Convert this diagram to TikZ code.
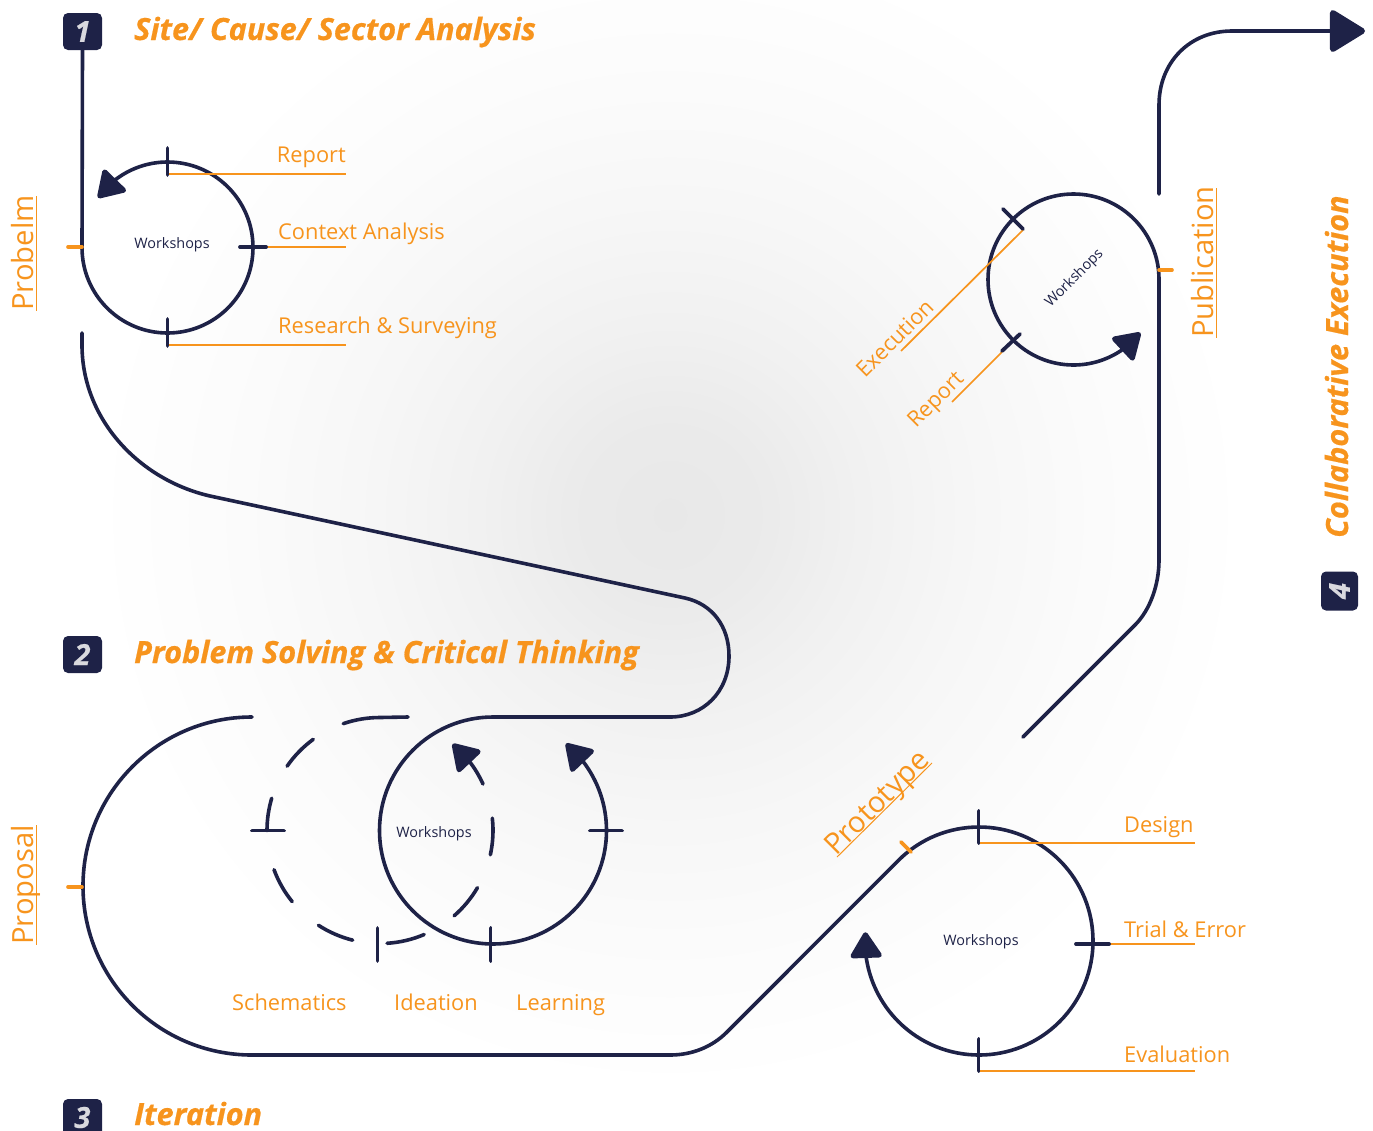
\documentclass[tikz,border=0pt]{standalone}
\usepackage{fontspec}
\setmainfont{Open Sans}[BoldItalicFeatures={FakeBold=0.6}]
\usetikzlibrary{arrows.meta,bending,calc}
\definecolor{navy}{HTML}{1E2247}
\definecolor{orange1}{HTML}{F7941D}
\definecolor{digit}{HTML}{D9D9DE}
\pgfdeclareradialshading{glow}{\pgfpointorigin}{
  color(0bp)=(black!9); color(4bp)=(black!8); color(8bp)=(black!5.5);
  color(13bp)=(black!3.2); color(18bp)=(black!1.5); color(24bp)=(white); color(50bp)=(white)}
\tikzset{
  flow/.style={draw=navy,line width=3.6pt,line cap=round,line join=round},
  flowtip/.style={flow,-{Triangle[round,line width=5pt,length=28pt,width=34pt]}},
  tick/.style={draw=navy,line width=3.8pt,line cap=round},
  otick/.style={draw=orange1,line width=3.6pt,line cap=round},
  leader/.style={draw=orange1,line width=1.7pt},
  under/.style={draw=orange1,line width=1pt},
  lab/.style={text=orange1,font=\fontsize{21.8}{26}\selectfont,inner sep=0pt},
  biglab/.style={text=orange1,font=\fontsize{29.2}{34}\selectfont,inner sep=0pt},
  ws/.style={text=navy,font=\fontsize{14.4}{18}\selectfont,inner sep=0pt},
  title/.style={text=orange1,font=\fontsize{30.6}{34}\selectfont\bfseries\itshape,inner sep=0pt},
  badge/.style={fill=navy,rounded corners=5pt,minimum width=39pt,minimum height=37pt,inner sep=0pt,
    text=digit,font=\fontsize{29}{32}\selectfont\bfseries\itshape},
}
\begin{document}
\begin{tikzpicture}[x=1pt,y=-1pt]
\useasboundingbox (0,0) rectangle (1373,1130);
\begin{scope}
\clip (0,0) rectangle (1373,1130);
\shade[shading=glow] (670,515) circle (600);
\end{scope}

% badges and titles
\node[badge] (b1) at (82.5,31.5) {1};
\node[badge] (b2) at (82.5,654.5) {2};
\node[badge] (b3) at (82.5,1117.5) {3};
\node[badge,rotate=90] (b4) at (1339.5,591) {4};
\node[title,anchor=base west] (t1) at (134,40) {Site/ Cause/ Sector Analysis};
\node[title,anchor=base west] (t2) at (134,663) {Problem Solving \& Critical Thinking};
\node[title,anchor=base west] (t3) at (134,1125) {Iteration};
\node[title,anchor=base west,rotate=90] (t4) at (1348,538) {Collaborative Execution};

% circle centres
\coordinate (c1) at (167.5,247.5);
\coordinate (c2) at (493,830.5);
\coordinate (c2d) at (380,830.5);
\coordinate (c3) at (979,941);
\coordinate (c4) at (1073.5,279.5);

% main connectors
\coordinate (p1) at (82,247.5);
\draw[flowtip] (b1.south) -- (p1) arc[start angle=180,end angle=-144.4,radius=85.5];

\coordinate (p2) at (82,333);
\coordinate (p2a) at (210,496);
\coordinate (p2b) at (685,598);
\coordinate (p2c) at (729,656);
\coordinate (p2d) at (670,717);
\coordinate (p2e) at (493,717);
\draw[flowtip] (p2) -- (82,345) .. controls (82,420) and (140,480) .. (p2a) -- (p2b)
  .. controls (712,604) and (729,626) .. (p2c)
  .. controls (729,692) and (703,717) .. (p2d) -- (p2e)
  arc[start angle=-90,end angle=-410,radius=113.5];

\foreach \a/\b in {-126.2/-145.3,-163.4/-180,159.7/141,123/104,86.4/67,49/30.4,12.4/-6.3}{
  \draw[flow] ($(c2d)+(\a:113)$) arc[start angle=\a,end angle=\b,radius=113];
}
\coordinate (p2f) at (408,717);
\draw[flow] ($(c2d)+(-109:113)$) arc[start angle=-109,end angle=-90,radius=113] -- (p2f);
\draw[flowtip] ($(c2d)+(-24.3:113)$) arc[start angle=-24.3,end angle=-50,radius=113];

\coordinate (p3) at (252,717);
\coordinate (p3a) at (670,1055);
\coordinate (p3b) at (727,1032);
\coordinate (p3c) at (898.4,860.4);
\draw[flowtip] (p3) arc[start angle=-90,end angle=-270,radius=169] -- (p3a)
  .. controls (692,1055) and (712,1047) .. (p3b) -- (p3c)
  arc[start angle=-135,end angle=184.4,radius=114];

\coordinate (p4) at (1023,737);
\coordinate (p4a) at (1135,625);
\coordinate (p4b) at (1159,560);
\coordinate (p4c) at (1159,279.5);
\draw[flowtip] (p4) -- (p4a) .. controls (1150,610) and (1159,585) .. (p4b) -- (p4c)
  arc[start angle=0,end angle=-321.5,radius=85.5];

\coordinate (p5) at (1159,194);
\coordinate (p5a) at (1159,105);
\coordinate (p5b) at (1232,31);
\coordinate (p5c) at (1365,31);
\draw[flow,-{Triangle[round,line width=6pt,length=38pt,width=45pt]}] (p5) -- (p5a)
  .. controls (1159,62) and (1190,31) .. (p5b) -- (p5c);

% orange leaders (under the ticks)
\draw[leader] (167,174) -- (346,174);
\draw[leader] (266,247) -- (346,247);
\draw[leader] (167,345) -- (346,345);
\draw[leader] (979,843) -- (1195,843);
\draw[leader] (1109,944) -- (1195,944);
\draw[leader] (979,1071) -- (1195,1071);
\draw[leader] (1023,230) -- (901,351);
\draw[leader] (1002,352) -- (952,402);

% navy ticks
\draw[tick] (167.5,148) -- (167.5,175);
\draw[tick] (167.5,319) -- (167.5,346);
\draw[tick] (240,247) -- (266,247);
\draw[tick] (252,830.5) -- (284,830.5);
\draw[tick] (377.5,928) -- (377.5,961);
\draw[tick] (490.5,928) -- (490.5,961);
\draw[tick] (590,830.5) -- (622,830.5);
\draw[tick] (978.5,811) -- (978.5,843);
\draw[tick] (978.5,1039) -- (978.5,1071);
\draw[tick] (1076,944) -- (1109,944);
\draw[tick] (1003,209) -- (1023,229);
\draw[tick] (1002,351) -- (1020,334);

% orange ticks
\draw[otick] (68,247) -- (82,247);
\draw[otick] (68,887) -- (82,887);
\draw[otick] (1159,270) -- (1172,270);
\draw[otick] (901,842) -- (911,852);

% underlines of the rotated labels
\draw[under] (36,196) -- (36,311);
\draw[under] (36,825) -- (36,945);
\draw[under] (1216,188) -- (1216,338);
\draw[under] (837,857) -- (932,763);

% labels
\node[lab,anchor=base east] (l1) at (346,162) {Report};
\node[lab,anchor=base west] (l2) at (278,239) {Context Analysis};
\node[lab,anchor=base west] (l3) at (278,333) {Research \& Surveying};
\node[lab,anchor=base west] (l4) at (232,1010) {Schematics};
\node[lab,anchor=base west] (l5) at (394,1010) {Ideation};
\node[lab,anchor=base west] (l6) at (516,1010) {Learning};
\node[lab,anchor=base west] (l7) at (1124,832) {Design};
\node[lab,anchor=base west] (l8) at (1124,937) {Trial \& Error};
\node[lab,anchor=base west] (l9) at (1124,1062) {Evaluation};
\node[lab,anchor=base west,rotate=45] (l10) at (865,379) {Execution};
\node[lab,anchor=base west,rotate=45] (l11) at (916,429) {Report};
\node[biglab,anchor=base west,rotate=90] (l12) at (33,311) {Probelm};
\node[biglab,anchor=base west,rotate=90] (l13) at (33,945) {Proposal};
\node[biglab,anchor=base west,rotate=90] (l14) at (1213,338) {Publication};
\node[biglab,anchor=base west,rotate=45] (l15) at (836,857) {Prototype};

\node[ws] (w1) at (172,245) {Workshops};
\node[ws] (w2) at (434,834) {Workshops};
\node[ws] (w3) at (981,942) {Workshops};
\node[ws,rotate=45] (w4) at (1074.5,278.5) {Workshops};
\end{tikzpicture}
\end{document}
